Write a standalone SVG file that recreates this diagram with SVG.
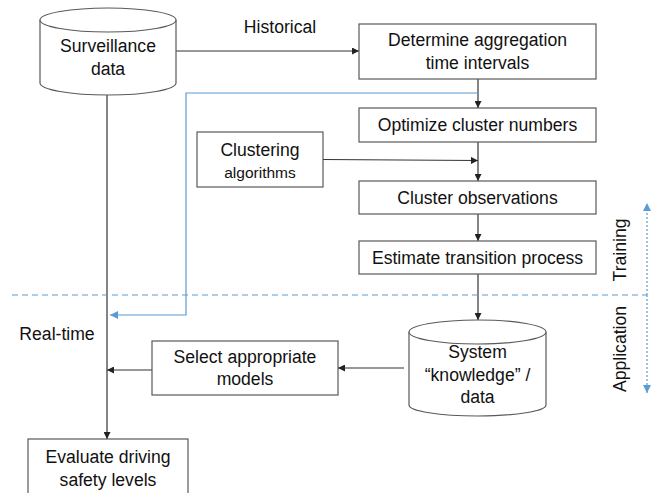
<svg xmlns="http://www.w3.org/2000/svg" width="658" height="493" viewBox="0 0 658 493">
<style>
text{font-family:"Liberation Sans",Arial,sans-serif;font-size:17.6px;fill:#111;text-anchor:middle;dominant-baseline:central}
.box{fill:#fff;stroke:#595959;stroke-width:1.2}
.ln{fill:none;stroke:#333;stroke-width:1.2}
.bl{fill:none;stroke:#5B9BD5;stroke-width:1.2}
.dash{fill:none;stroke:#5B9BD5;stroke-width:1.2;stroke-dasharray:6 4}
.dot{fill:none;stroke:#5B9BD5;stroke-width:1.2;stroke-dasharray:2 2}
</style>
<defs>
<marker id="ah" viewBox="0 0 10 10" refX="10" refY="5" markerWidth="7" markerHeight="7" markerUnits="userSpaceOnUse" orient="auto"><path d="M0,0 L10,5 L0,10 z" fill="#222"/></marker>
<marker id="ahb" viewBox="0 0 10 10" refX="10" refY="5" markerWidth="8" markerHeight="8" markerUnits="userSpaceOnUse" orient="auto"><path d="M0,0 L10,5 L0,10 z" fill="#5B9BD5"/></marker>
</defs>
<g id="connectors">
<path class="ln" d="M176,51 H359" marker-end="url(#ah)"/>
<path class="ln" d="M478,79 V108" marker-end="url(#ah)"/>
<path class="ln" d="M478,142 V181" marker-end="url(#ah)"/>
<path class="ln" d="M323,159.5 L478,160.5" marker-end="url(#ah)"/>
<path class="ln" d="M478,214 V241" marker-end="url(#ah)"/>
<path class="ln" d="M478,274 V320" marker-end="url(#ah)"/>
<path class="ln" d="M404,368 H338" marker-end="url(#ah)"/>
<path class="ln" d="M152,370 H107" marker-end="url(#ah)"/>
<path class="ln" d="M107,95 V439" marker-end="url(#ah)"/>
<path class="bl" d="M478,93 H186 V315 H110" marker-end="url(#ahb)"/>
<path class="dash" d="M12,295 H647"/>
<path class="dot" d="M647,295 V203" marker-end="url(#ahb)"/>
<path class="dot" d="M647,295 V393" marker-end="url(#ahb)"/>
</g>
<g id="surveillance">
<path class="box" d="M40,20 V83 A68,12 0 0 0 176,83 V20"/>
<ellipse class="box" cx="108" cy="20" rx="68" ry="12"/>
<text x="108" y="46">Surveillance</text>
<text x="108" y="69">data</text>
</g>
<text x="280" y="27">Historical</text>
<g id="determine">
<rect class="box" x="359" y="24" width="237" height="55"/>
<text x="477.5" y="40">Determine aggregation</text>
<text x="477.5" y="63">time intervals</text>
</g>
<g id="optimize">
<rect class="box" x="359" y="108" width="237" height="34"/>
<text x="477.5" y="125">Optimize cluster numbers</text>
</g>
<g id="clustering">
<rect class="box" x="197" y="132" width="126" height="55"/>
<text x="260" y="150">Clustering</text>
<text x="260" y="172" style="font-size:15.5px">algorithms</text>
</g>
<g id="cluster-obs">
<rect class="box" x="359" y="181" width="237" height="33"/>
<text x="477.5" y="197.5">Cluster observations</text>
</g>
<g id="estimate">
<rect class="box" x="359" y="241" width="237" height="33"/>
<text x="477.5" y="257.5">Estimate transition process</text>
</g>
<g id="system">
<path class="box" d="M409,332 V405 A68.5,11 0 0 0 546,405 V332"/>
<ellipse class="box" cx="477.5" cy="332" rx="68.5" ry="12"/>
<text x="477.5" y="352">System</text>
<text x="477.5" y="375">“knowledge” /</text>
<text x="477.5" y="397">data</text>
</g>
<g id="select">
<rect class="box" x="152" y="341" width="186" height="54"/>
<text x="245" y="357">Select appropriate</text>
<text x="245" y="379">models</text>
</g>
<text x="57" y="334">Real-time</text>
<g id="evaluate">
<rect class="box" x="28" y="439" width="160" height="60"/>
<text x="108" y="457">Evaluate driving</text>
<text x="108" y="480">safety levels</text>
</g>
<text transform="translate(620,250) rotate(-90)" x="0" y="0">Training</text>
<text transform="translate(620,349) rotate(-90)" x="0" y="0">Application</text>
</svg>
